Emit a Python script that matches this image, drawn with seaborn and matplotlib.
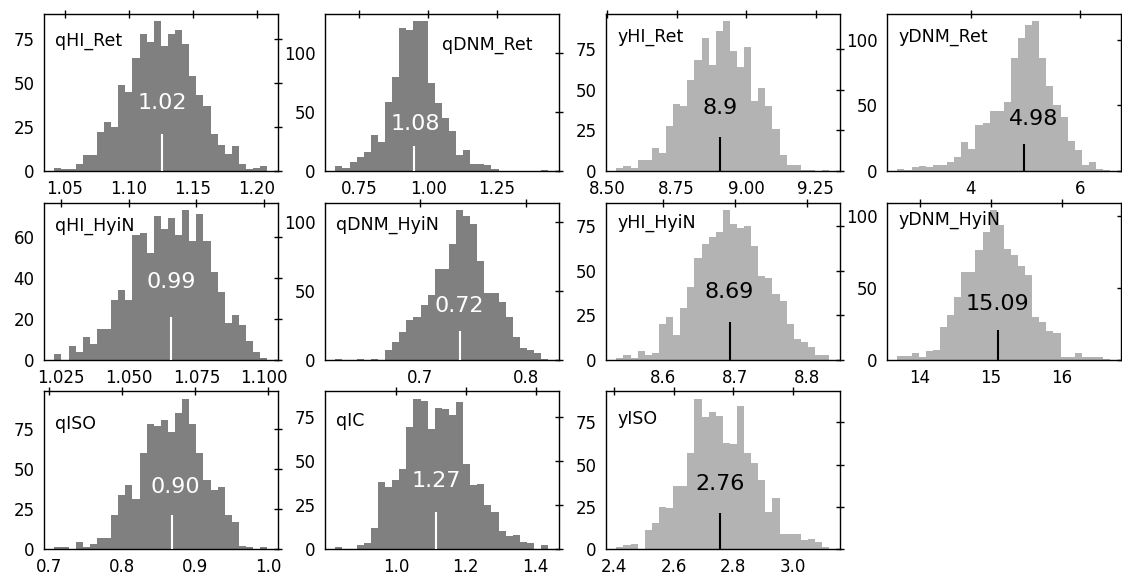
import numpy as np
import pandas as pd
import matplotlib
matplotlib.use("Agg")
import matplotlib.pyplot as plt
import seaborn as sns

# panel names and the number written in each panel
names = ["qHI_Ret", "qDNM_Ret", "yHI_Ret", "yDNM_Ret",
         "qHI_HyiN", "qDNM_HyiN", "yHI_HyiN", "yDNM_HyiN",
         "qISO", "qIC", "yISO"]
values = ["1.02", "1.08", "8.9", "4.98",
          "0.99", "0.72", "8.69", "15.09",
          "0.90", "1.27", "2.76"]

# first / last bin edge of each histogram (30 bins)
bin_lo = [1.0419, 0.6623, 8.5332, 2.658, 1.02244, 0.6199, 8.5353, 13.689, 0.70776, 0.8259, 2.408]
bin_hi = [1.2083, 1.4367, 9.2980, 6.559, 1.10121, 0.8215, 8.8304, 16.677, 0.99901, 1.4364, 3.122]

# bin counts
counts = [
    [2, 1, 1, 4, 9, 9, 22, 28, 25, 49, 45, 64, 78, 73, 85, 71, 78, 80, 72, 54, 43, 37, 21, 15, 10, 14, 4, 1, 2, 3],
    [4, 3, 8, 12, 16, 31, 25, 59, 80, 121, 120, 127, 127, 75, 58, 45, 34, 14, 18, 6, 6, 5, 2, 0, 0, 0, 0, 0, 0, 1],
    [2, 3, 2, 7, 7, 14, 11, 28, 41, 40, 56, 68, 82, 65, 86, 92, 74, 64, 76, 43, 51, 40, 26, 10, 4, 4, 1, 1, 0, 1],
    [2, 1, 3, 4, 3, 5, 5, 7, 11, 22, 17, 35, 37, 46, 46, 53, 86, 101, 111, 114, 86, 65, 50, 41, 23, 16, 5, 7, 2, 1],
    [3, 0, 7, 4, 11, 8, 15, 15, 29, 34, 29, 61, 62, 52, 70, 64, 69, 61, 73, 58, 71, 58, 43, 33, 18, 22, 17, 9, 4, 1],
    [1, 0, 0, 1, 0, 1, 0, 7, 13, 20, 29, 31, 40, 47, 66, 66, 84, 109, 105, 99, 72, 49, 49, 42, 31, 17, 9, 7, 5, 1],
    [1, 3, 1, 5, 3, 4, 20, 24, 14, 29, 41, 57, 65, 69, 72, 84, 76, 74, 75, 64, 47, 46, 37, 33, 20, 12, 10, 7, 3, 3],
    [3, 3, 5, 2, 6, 7, 23, 31, 44, 61, 61, 76, 89, 104, 94, 77, 73, 65, 59, 30, 26, 20, 19, 2, 2, 5, 2, 2, 2, 1],
    [1, 1, 0, 4, 1, 3, 7, 7, 21, 34, 40, 31, 60, 78, 77, 81, 73, 85, 94, 78, 60, 43, 37, 39, 21, 17, 2, 1, 0, 1],
    [1, 0, 0, 2, 3, 12, 38, 35, 39, 45, 69, 85, 84, 68, 80, 79, 76, 83, 48, 36, 37, 25, 21, 10, 7, 8, 4, 3, 0, 2],
    [1, 2, 3, 0, 11, 15, 25, 24, 37, 37, 57, 89, 78, 81, 79, 63, 62, 85, 57, 51, 41, 22, 30, 9, 9, 9, 5, 6, 4, 1],
]

# position of the short marker line and of the number
marker_x = [1.1263, 0.949, 8.9047, 4.97, 1.0656, 0.7375, 8.6923, 15.095, 0.8683, 1.1154, 2.7543]
label_x = [1.1263, 0.952, 8.9047, 5.146, 1.0656, 0.7375, 8.6923, 15.095, 0.8736, 1.1154, 2.7543]

xticks = [
    [1.05, 1.10, 1.15, 1.20], [0.75, 1.00, 1.25], [8.50, 8.75, 9.00, 9.25], [4, 6],
    [1.025, 1.050, 1.075, 1.100], [0.7, 0.8], [8.6, 8.7, 8.8], [14, 15, 16],
    [0.7, 0.8, 0.9, 1.0], [1.0, 1.2, 1.4], [2.4, 2.6, 2.8, 3.0],
]
yticks = [
    [0, 25, 50, 75], [0, 50, 100], [0, 25, 50, 75], [0, 50, 100],
    [0, 20, 40, 60], [0, 50, 100], [0, 25, 50, 75], [0, 50, 100],
    [0, 25, 50, 75], [0, 25, 50, 75], [0, 25, 50, 75],
]

# where the panel name sits (axes fraction)
name_pos = [(0.05, 0.80), (0.50, 0.77), (0.05, 0.825), (0.05, 0.825),
            (0.05, 0.82), (0.05, 0.83), (0.05, 0.84), (0.05, 0.86),
            (0.05, 0.76), (0.05, 0.78), (0.05, 0.79)]

sns.set_style("white")
plt.rcParams["font.family"] = ["DejaVu Sans"]
plt.rcParams["text.color"] = "black"
plt.rcParams["xtick.color"] = "black"
plt.rcParams["ytick.color"] = "black"

fig, axes = plt.subplots(3, 4, figsize=(11.22, 5.77), dpi=100)
fig.subplots_adjust(left=0.039, right=0.999, bottom=0.049, top=0.976, wspace=0.2, hspace=0.2)
axes = axes.ravel()

for i, name in enumerate(names):
    ax = axes[i]
    dark = name.startswith("q")
    bar_color = "#808080" if dark else "#b3b3b3"
    mark_color = "white" if dark else "black"

    edges = np.linspace(bin_lo[i], bin_hi[i], len(counts[i]) + 1)
    df = pd.DataFrame({"x": (edges[:-1] + edges[1:]) / 2, "n": counts[i]})
    sns.histplot(data=df, x="x", weights="n", bins=edges.tolist(), color=bar_color,
                 alpha=1, linewidth=0, ax=ax)

    ax.vlines(marker_x[i], 0, 21, color=mark_color, linewidth=1.5, zorder=3)
    ax.text(label_x[i], 35, values[i], ha="center", fontsize=16, color=mark_color, zorder=4)
    ax.text(name_pos[i][0], name_pos[i][1], name, transform=ax.transAxes,
            fontsize=12.5, color="black", zorder=4)

    ax.set_xticks(xticks[i])
    ax.set_yticks(yticks[i])
    ax.set_xlabel("")
    ax.set_ylabel("")
    ax.tick_params(direction="inout", length=6, width=1, top=True, right=True,
                   labeltop=False, labelright=False, labelsize=12)
    for sp in ax.spines.values():
        sp.set_visible(True)
        sp.set_color("black")
        sp.set_linewidth(1.0)

axes[11].axis("off")

fig.savefig("out.png", dpi=100)
